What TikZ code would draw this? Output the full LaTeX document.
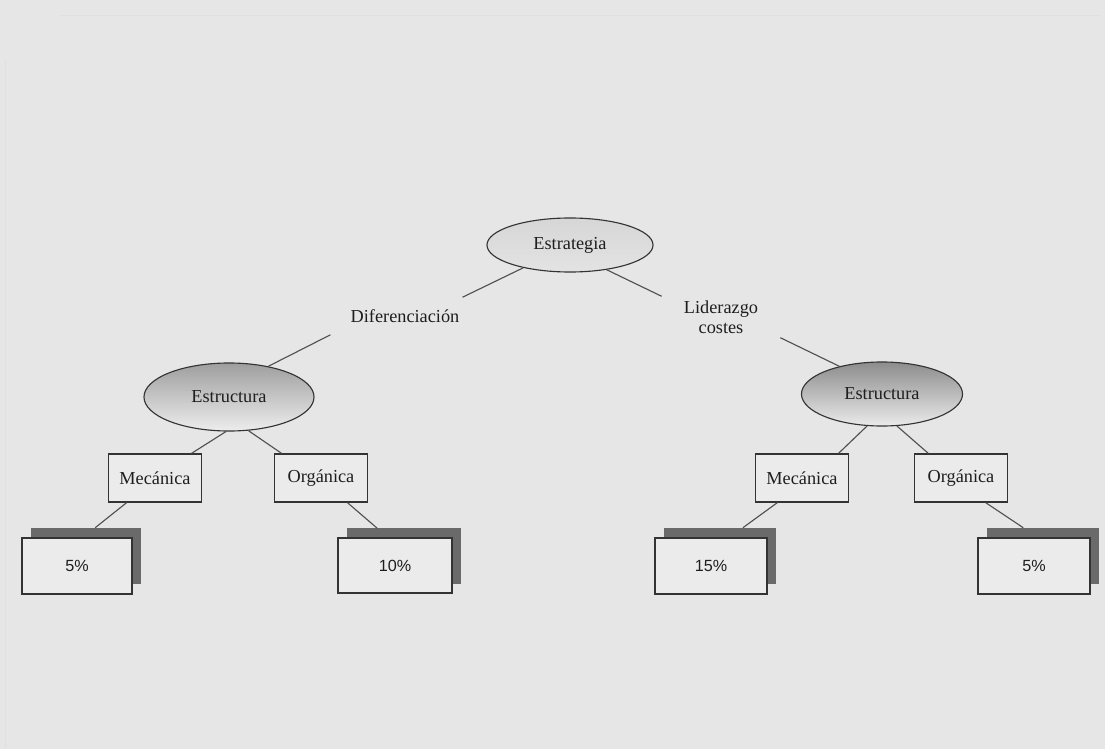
\documentclass[tikz,border=0pt]{standalone}
\usepackage{fontspec}
\setmainfont{Liberation Serif}
\newfontfamily\pctfont{Liberation Sans}
\usetikzlibrary{shapes.geometric}
\definecolor{bg}{HTML}{E6E6E6}
\definecolor{boxfill}{HTML}{EBEBEB}
\definecolor{shadowc}{HTML}{6A6A6A}
\definecolor{edgec}{HTML}{333333}
\definecolor{linec}{HTML}{505050}
\definecolor{txt}{HTML}{1E1E1E}
\begin{document}
\begin{tikzpicture}[x=0.025cm,y=-0.025cm,
  lbl/.style={font=\fontsize{13}{14.2}\selectfont, text=txt, align=center},
  oval/.style={ellipse, draw=edgec, line width=0.8pt, inner sep=0pt,
    font=\fontsize{13}{15}\selectfont, text=txt},
  boxn/.style={rectangle, draw=edgec, line width=0.8pt, fill=boxfill,
    minimum width=2.325cm, minimum height=1.2cm, inner sep=0pt,
    font=\fontsize{13}{15}\selectfont, text=txt},
  shad/.style={rectangle, fill=shadowc, inner sep=0pt},
  pct/.style={rectangle, draw=edgec, line width=0.8pt, fill=boxfill, inner sep=0pt,
    font=\pctfont\fontsize{11.5}{13}\selectfont, text=txt},
  conn/.style={draw=linec, line width=0.8pt}]
\fill[bg] (0,0) rectangle (1105,749);
\useasboundingbox (0,0) rectangle (1105,749);
% faint scan edges
\draw[black!12, line width=0.4pt] (60,15) -- (1100,15);
\draw[black!12, line width=0.4pt] (5,60) -- (5,749);

% ellipses
\node[oval, minimum width=4.15cm, minimum height=1.35cm,
  top color=black!16, bottom color=black!11] (estr) at (570,245) {Estrategia};
\node[oval, minimum width=4.25cm, minimum height=1.7cm,
  top color=black!38, bottom color=black!7] (est1) at (229,397) {Estructura};
\node[oval, minimum width=4.025cm, minimum height=1.6cm,
  top color=black!45, bottom color=black!8] (est2) at (882,394) {Estructura};

% branch labels
\node[lbl, inner xsep=0.075cm, inner ysep=0.3cm] (dif) at (405,316) {Diferenciación};
\node[lbl, inner xsep=0.55cm, inner ysep=0.1cm] (lid) at (721,317) {Liderazgo\\costes};

% second level boxes
\node[boxn] (mec1) at (155,478) {Mecánica};
\node[boxn] (org1) at (321,478) {Orgánica};
\node[boxn] (mec2) at (802,478) {Mecánica};
\node[boxn] (org2) at (961,478) {Orgánica};

% percentage boxes with shadows
\node[shad, minimum width=2.75cm, minimum height=1.4cm] (s1) at (86,556) {};
\node[pct, minimum width=2.75cm, minimum height=1.4cm] (p1) at (77,566) {5\%};
\node[shad, minimum width=2.85cm, minimum height=1.375cm] (s2) at (404,556) {};
\node[pct, minimum width=2.85cm, minimum height=1.375cm] (p2) at (395,565.5) {10\%};
\node[shad, minimum width=2.8cm, minimum height=1.4cm] (s3) at (720,556) {};
\node[pct, minimum width=2.8cm, minimum height=1.4cm] (p3) at (711,566) {15\%};
\node[shad, minimum width=2.8cm, minimum height=1.4cm] (s4) at (1043,556) {};
\node[pct, minimum width=2.8cm, minimum height=1.4cm] (p4) at (1034,566) {5\%};

% connectors
\draw[conn] (estr.206) -- (dif.north east);
\draw[conn] ([xshift=-0.425cm]dif.south west) -- (est1.38);
\draw[conn] (estr.326) -- (lid.north west);
\draw[conn] (lid.south east) -- (est2.147);
\draw[conn] (est1.265) -- (mec1.34);
\draw[conn] (est1.300) -- (org1.148);
\draw[conn] (est2.245) -- (mec2.34);
\draw[conn] (est2.295) -- (org2.143);
\draw[conn] (mec1.221) -- (s1.72);
\draw[conn] (org1.317) -- (s2.134);
\draw[conn] (mec2.225) -- (s3.51);
\draw[conn] (org2.315) -- (s4.125);
\end{tikzpicture}
\end{document}
